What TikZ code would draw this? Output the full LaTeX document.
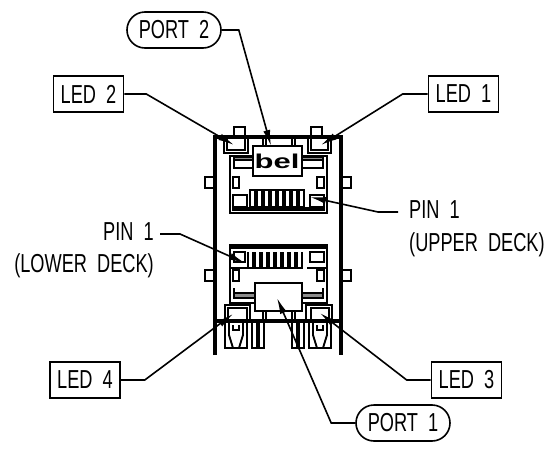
\documentclass[tikz,border=0pt]{standalone}
\usepackage{fontspec}
\setmainfont{Liberation Sans}[FakeStretch=0.7]
\newfontfamily\logofont{Liberation Sans}[FakeStretch=1.55]
\usetikzlibrary{arrows.meta,shapes.misc}
\tikzset{
  tag/.style={rectangle, draw, line width=1.6pt, minimum width=70pt, minimum height=36pt, inner sep=0pt, font=\fontsize{26}{26}\selectfont},
  pill/.style={rounded rectangle, draw, line width=1.6pt, minimum width=94pt, minimum height=36pt, inner sep=0pt, font=\fontsize{26}{26}\selectfont},
  note/.style={inner sep=0pt, font=\fontsize{26}{26}\selectfont},
  leader/.style={line width=1.6pt, -{Latex[length=16pt,width=7pt]}},
  heavy/.style={line width=3.2pt},
  part/.style={line width=1.9pt},
  strip/.style={line width=1.9pt, fill=black!45},
}
\begin{document}
\begin{tikzpicture}[x=1pt,y=-1pt]
   \useasboundingbox (0,0) rectangle (550,453);
   % body
   \draw[heavy] (215,355) -- (215,137) -- (341,137) -- (341,355);
   \draw[heavy] (215,321) -- (341,321);
   \draw[part] (234,137) -- (234,127) -- (245,127) -- (245,137);
   \draw[part] (311,137) -- (311,127) -- (322,127) -- (322,137);
   % side pads
   \foreach \y in {177,270} {
     \draw[part] (215,\y) rectangle (205,\y+11);
     \draw[part] (341,\y) rectangle (351,\y+11);
     \draw[part] (233,\y) rectangle (239,\y+11);
     \draw[part] (317,\y) rectangle (324,\y+11);
   }
   % upper windows
   \draw[part] (224,137) rectangle (248,153);
   \draw[part] (308,137) rectangle (331,153);
   \draw[part] (227,137) -- (227,150) -- (245,150) -- (245,137);
   \draw[part] (311,137) -- (311,150) -- (328,150) -- (328,137);
   % upper deck
   \draw[part] (253,146) rectangle (302,176);
   \draw[part] (263,137) -- (263,146) (266,137) -- (266,146) (292,137) -- (292,146) (295,137) -- (295,146);
   \draw[part] (253,156) -- (230,156) -- (230,213) -- (327,213) -- (327,156) -- (302,156);
   \draw[strip] (234,157) rectangle (253,160);
   \draw[strip] (302,157) rectangle (323,160);
   \draw[part] (234,160) -- (234,168) -- (253,168) (323,160) -- (323,168) -- (302,168);
   \draw[heavy] (232,209) -- (325,209);
   \draw[part] (233,195) rectangle (247,207);
   \draw[part] (310,195) rectangle (324,207);
   \foreach \x in {250,257,...,302} {
     \draw[part] (\x,190) -- (\x,207) -- (\x+5,207) -- (\x+5,190) -- cycle;
   }
   \node[inner sep=0pt, font=\fontsize{20}{20}\selectfont\logofont\bfseries] (logo) at (277,161) {bel};
   % lower deck
   \draw[part] (230,245) rectangle (327,303);
   \draw[heavy] (230,247) -- (327,247);
   \draw[part] (234,252) rectangle (245,262);
   \draw[part] (310,252) rectangle (324,262);
   \foreach \x in {248,255,...,300} {
     \draw[part] (\x,252) -- (\x,268) -- (\x+5,268) -- (\x+5,252);
   }
   \draw[part] (230,268) -- (248,268) (307,268) -- (327,268);
   \draw[part] (234,288) -- (234,293) -- (255,293) (323,288) -- (323,293) -- (302,293);
   \draw[strip] (234,293) rectangle (255,298);
   \draw[strip] (302,293) rectangle (323,298);
   \draw[part, fill=white] (255,283) rectangle (302,311);
   \draw[part] (263,311) -- (263,321) (266,311) -- (266,321) (292,311) -- (292,321) (295,311) -- (295,321);
   % lower windows
   \draw[part] (225,305) rectangle (250,321);
   \draw[part] (306,305) rectangle (332,321);
   \draw[part] (228,321) -- (228,308) -- (247,308) -- (247,321);
   \draw[part] (311,321) -- (311,308) -- (329,308) -- (329,321);
   % legs
   \foreach \x in {225,309} {
     \draw[part] (\x,321) -- (\x,348) -- (\x+22,348) -- (\x+22,321);
     \draw[part] (\x+4,321) -- (\x+4,335) -- (\x+8,348);
     \draw[part] (\x+18,321) -- (\x+18,335) -- (\x+14,348);
     \draw[part] (\x+8,325) -- (\x+8,330) -- (\x+14,330) -- (\x+14,325);
   }
   \foreach \x in {252,259,292,299} {
     \draw[part] (\x,321) -- (\x,348) -- (\x+5,348) -- (\x+5,321);
   }
   % labels
   \node[pill] (portb) at (174,30) {PORT\ \ 2};
   \node[pill] (porta) at (403,423) {PORT\ \ 1};
   \node[tag] (ledb) at (88.5,94) {LED\ \ 2};
   \node[tag] (leda) at (463.5,94) {LED\ \ 1};
   \node[tag] (ledd) at (85,380) {LED\ \ 4};
   \node[tag] (ledc) at (466.5,380) {LED\ \ 3};
   \node[note, anchor=base west] (pinupper) at (409,218) {PIN\ \ 1};
   \node[note, anchor=base west] (deckupper) at (409,251) {(UPPER\ \ DECK)};
   \node[note, anchor=base east] (pinlower) at (154,240) {PIN\ \ 1};
   \node[note, anchor=base east] (decklower) at (154,272) {(LOWER\ \ DECK)};
   % ends of the leaders
   \coordinate (tipportb) at (271,146);
   \coordinate (tipporta) at (277,298);
   \coordinate (tipledb) at (234,145);
   \coordinate (tipleda) at (321,145);
   \coordinate (tipledd) at (233,314);
   \coordinate (tipledc) at (320,313);
   \coordinate (tippinupper) at (310,197);
   \coordinate (tippinlower) at (245,263);
   \coordinate (startpinupper) at (398,212);
   \coordinate (startpinlower) at (160,234);
   \draw[leader] (portb.east) -- ++(17,0) -- (tipportb);
   \draw[leader] (porta.west) -- ++(-24,0) -- (tipporta);
   \draw[leader] (ledb.east) -- ++(22,0) -- (tipledb);
   \draw[leader] (leda.west) -- ++(-25,0) -- (tipleda);
   \draw[leader] (ledd.east) -- ++(24,0) -- (tipledd);
   \draw[leader] (ledc.west) -- ++(-24,0) -- (tipledc);
   \draw[leader] (startpinupper) -- ++(-20,0) -- (tippinupper);
   \draw[leader] (startpinlower) -- ++(20,0) -- (tippinlower);
  \end{tikzpicture}
\end{document}
